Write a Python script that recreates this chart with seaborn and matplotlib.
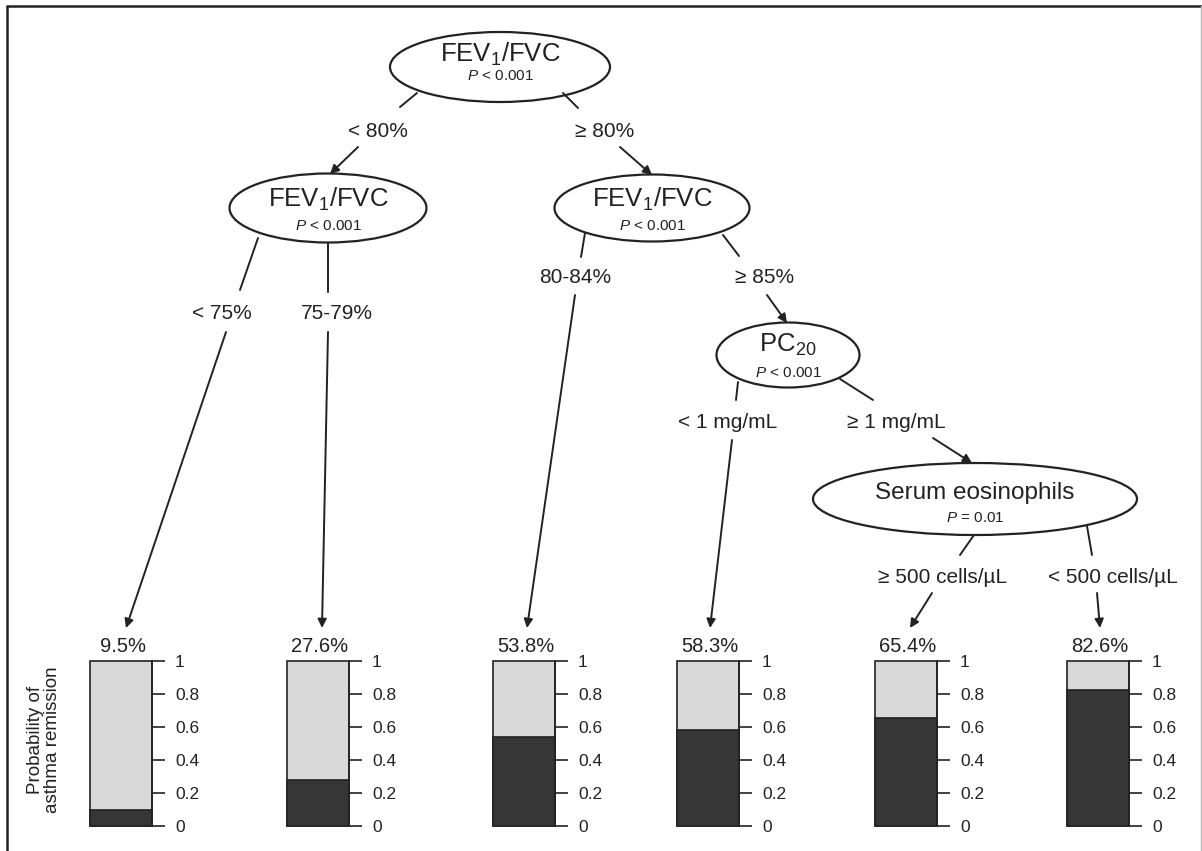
import numpy as np
import pandas as pd
import matplotlib
matplotlib.use('Agg')
import matplotlib.pyplot as plt
import seaborn as sns
from matplotlib.patches import Ellipse

sns.set_style('white')
plt.rcParams['font.family'] = ['Liberation Sans', 'DejaVu Sans']
plt.rcParams['mathtext.fontset'] = 'custom'
plt.rcParams['mathtext.rm'] = 'Liberation Sans'
plt.rcParams['mathtext.it'] = 'Liberation Sans:italic'

# 葉節點資料 (緩解機率)
leaf_names = ['<75%', '75-79%', '80-84%', '<1 mg/mL', '>=500 cells', '<500 cells']
remission = [0.095, 0.276, 0.538, 0.583, 0.654, 0.826]
pct_labels = ['9.5%', '27.6%', '53.8%', '58.3%', '65.4%', '82.6%']
tick_vals = [0, 0.2, 0.4, 0.6, 0.8, 1]
tick_labels = ['0', '0.2', '0.4', '0.6', '0.8', '1']

# 決策樹節點
node_titles = ['FEV$_1$/FVC', 'FEV$_1$/FVC', 'FEV$_1$/FVC', 'PC$_{20}$', 'Serum eosinophils']
node_pvals = ['$P$ < 0.001', '$P$ < 0.001', '$P$ < 0.001', '$P$ < 0.001', '$P$ = 0.01']
split_labels = ['< 80%', '\u2265 80%', '< 75%', '75-79%', '80-84%', '\u2265 85%',
                '< 1 mg/mL', '\u2265 1 mg/mL', '\u2265 500 cells/\u00b5L', '< 500 cells/\u00b5L']

# layout (pixel coords)
W, H = 1202, 851
node_xy = [(500, 67), (328, 208), (652, 208), (788, 355), (975, 499)]
node_wh = [(220, 70), (197, 69), (195, 67), (143, 65), (324, 72)]
node_base = [(62, 80), (207, 230), (207, 230), (352, 377), (499, 522)]
node_fs = [18.5, 18.5, 18.5, 18.5, 17.5]

label_xy = [(378, 137), (605, 137), (222, 319), (337, 319), (575, 283), (765, 283),
            (728, 428), (896, 428), (943, 583), (1113, 583)]
stub = [((417, 93), (400, 107)), ((563, 93), (578, 108)), ((258, 238), (240, 290)),
        ((328, 243), (328, 292)), ((585, 233), (581, 257)), ((723, 235), (739, 256)),
        ((738, 382), (736, 400)), ((840, 379), (873, 400)), ((974, 535), (960, 555)),
        ((1087, 526), (1092, 555))]
arrows = [((358, 147), (330, 174)), ((620, 147), (652, 175)), ((226, 332), (126, 628)),
          ((328, 332), (322, 628)), ((575, 295), (527, 628)), ((767, 295), (787, 323)),
          ((732, 440), (710, 628)), ((933, 438), (972, 463)), ((932, 593), (910, 628)),
          ((1097, 593), (1100, 628))]

bar_x = [90, 287, 493, 677, 875, 1067]
bar_w = 62
bar_top, bar_bot = 661, 826

fig = plt.figure(figsize=(W / 100, H / 100), dpi=100)
ax = fig.add_axes([0, 0, 1, 1])
ax.set_xlim(0, W)
ax.set_ylim(H, 0)
ax.axis('off')

line_c = '#222222'

# border
ax.plot([6, W], [6, 6], color=line_c, lw=1.8, solid_capstyle='butt')
ax.plot([7, 7], [6, H], color=line_c, lw=1.8, solid_capstyle='butt')
ax.plot([W - 1, W - 1], [6, H], color='#bbbbbb', lw=1)

for (cx, cy), (w, h), (b1, b2), t, p, fs in zip(node_xy, node_wh, node_base, node_titles, node_pvals, node_fs):
    ax.add_patch(Ellipse((cx, cy), w, h, facecolor='white', edgecolor=line_c, lw=1.6, zorder=2))
    ax.text(cx, b1, t, ha='center', va='baseline', fontsize=fs, color='#222222', zorder=3)
    ax.text(cx, b2, p, ha='center', va='baseline', fontsize=11, color='#222222', zorder=3)

for (lx, ly), s in zip(label_xy, split_labels):
    ax.text(lx, ly, s, ha='center', va='baseline', fontsize=15, color='#222222')

for (a, b) in stub:
    ax.plot([a[0], b[0]], [a[1], b[1]], color=line_c, lw=1.4)

for (a, b) in arrows:
    ax.annotate('', xy=b, xytext=a,
                arrowprops=dict(arrowstyle='-|>', color=line_c, lw=1.4,
                                mutation_scale=13, shrinkA=0, shrinkB=0))

# bars
for i, (name, p) in enumerate(zip(leaf_names, remission)):
    rect = [bar_x[i] / W, 1 - bar_bot / H, bar_w / W, (bar_bot - bar_top) / H]
    bax = fig.add_axes(rect)
    df = pd.DataFrame({'leaf': [name], 'total': [1.0], 'p': [p]})
    sns.barplot(data=df, x='leaf', y='total', color='#d9d9d9', width=1, saturation=1,
                edgecolor=line_c, linewidth=1.2, ax=bax)
    sns.barplot(data=df, x='leaf', y='p', color='#363636', width=1, saturation=1,
                edgecolor=line_c, linewidth=1.2, ax=bax)
    for patch in bax.patches:
        patch.set_clip_on(False)
    bax.set_xlim(-0.5, 0.5)
    bax.set_ylim(0, 1)
    bax.set_xlabel('')
    bax.set_ylabel('')
    bax.set_xticks([])
    bax.yaxis.tick_right()
    bax.set_yticks(tick_vals)
    bax.set_yticklabels(tick_labels)
    bax.tick_params(axis='y', right=True, length=9.5, width=1.2, pad=7,
                    labelsize=12.5, colors=line_c, labelcolor='#222222')
    for s in ['left', 'top', 'bottom']:
        bax.spines[s].set_visible(False)
    bax.spines['right'].set_color(line_c)
    bax.spines['right'].set_linewidth(1.2)
    bax.patch.set_alpha(0)
    ax.text(bar_x[i] + bar_w / 2 + 2, 652, pct_labels[i], ha='center', va='baseline',
            fontsize=14.5, color='#222222')

ax.text(44, 740, 'Probability of\nasthma remission', rotation=90, ha='center', va='center',
        fontsize=13.5, linespacing=0.95, color='#222222')

fig.savefig('out.png', dpi=100)
